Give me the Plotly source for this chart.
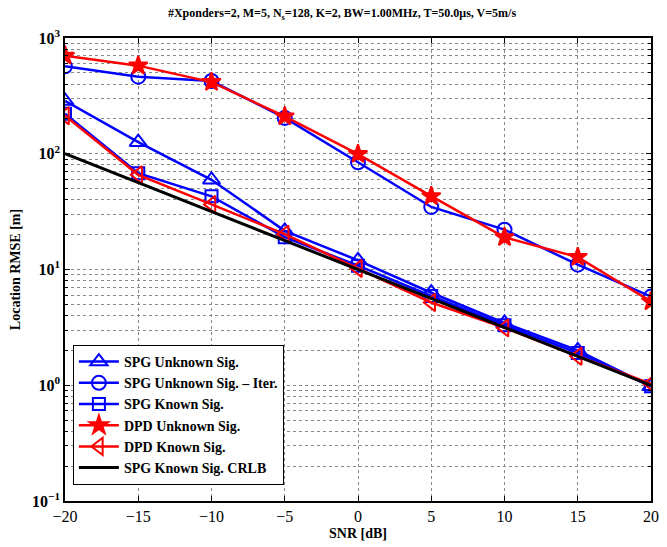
import plotly.graph_objects as go

snr = [-20, -15, -10, -5, 0, 5, 10, 15, 20]
spg_unknown = [286, 126, 59.6, 21.6, 12.0, 6.3, 3.45, 2.0, 0.98]
spg_unknown_iter = [569, 463, 425, 204, 84.4, 34.7, 22.1, 11.0, 5.84]
spg_known = [222, 67.9, 42.9, 19.0, 10.8, 5.9, 3.3, 1.9, 0.98]
dpd_unknown = [703, 577, 416, 210, 99.3, 43.0, 19.0, 12.8, 5.3]
dpd_known = [213, 65.8, 36.5, 20.2, 10.2, 5.19, 3.13, 1.78, 1.03]
crlb = [100, 56.2, 31.6, 17.8, 10.0, 5.62, 3.16, 1.78, 1.0]

names = ["SPG Unknown Sig.", "SPG Unknown Sig. – Iter.", "SPG Known Sig.",
         "DPD Unknown Sig.", "DPD Known Sig.", "SPG Known Sig. CRLB"]

FONT = "Liberation Serif"
BLUE = "#0000ff"
RED = "#ff0000"

fig = go.Figure()

def add(y, name, color, symbol, size):
    marker = dict(symbol=symbol, size=size, color=color,
                  line=dict(color=color, width=2))
    fig.add_trace(go.Scatter(x=snr, y=y, name="<b>" + name + "</b>", mode="lines+markers",
                             line=dict(color=color, width=2.5), marker=marker))

add(spg_unknown, names[0], BLUE, "triangle-up-open", 15)
add(spg_unknown_iter, names[1], BLUE, "circle-open", 14)
add(spg_known, names[2], BLUE, "square-open", 12)
add(dpd_unknown, names[3], RED, "star", 14)
add(dpd_known, names[4], RED, "triangle-left-open", 15)
fig.add_trace(go.Scatter(x=snr, y=crlb, name="<b>" + names[5] + "</b>", mode="lines",
                         line=dict(color="black", width=3)))

minor_vals = [m * 10 ** e for e in range(-1, 3) for m in range(2, 10)]

fig.update_layout(
    width=667, height=547,
    margin=dict(l=65, r=8, t=38, b=40),
    paper_bgcolor="white", plot_bgcolor="white",
    font=dict(family=FONT, color="black"),
    title=dict(text="<b>#Xponders=2, M=5, N<sub>s</sub>=128, K=2, BW=1.00MHz, T=50.0μs, V=5m/s</b>",
               x=342 / 667, xanchor="center", y=1 - 13 / 547, yanchor="middle",
               font=dict(size=12, family=FONT)),
    showlegend=True,
    legend=dict(x=(73 - 65) / 594, y=(507 - 349) / 469, xanchor="left", yanchor="top",
                bordercolor="black", borderwidth=1, bgcolor="white",
                font=dict(size=14, family=FONT), itemwidth=40, tracegroupgap=0),
)

fig.update_xaxes(
    range=[-20, 20], tickvals=[-20, -15, -10, -5, 0, 5, 10, 15, 20],
    ticks="inside", ticklen=5, tickcolor="black",
    showline=True, linecolor="black", linewidth=1.5, mirror="ticks",
    showgrid=True, gridcolor="#888", griddash="dot", gridwidth=1,
    zeroline=False,
    tickfont=dict(size=16, family=FONT),
    tickprefix="<b>", ticksuffix="</b>",
    title=dict(text="<b>SNR [dB]</b>", font=dict(size=14, family=FONT), standoff=4),
)

fig.update_yaxes(
    type="log", range=[-1, 3],
    tickvals=[0.1, 1, 10, 100, 1000],
    ticktext=["<b>10<sup>−1</sup></b>", "<b>10<sup>0</sup></b>", "<b>10<sup>1</sup></b>",
              "<b>10<sup>2</sup></b>", "<b>10<sup>3</sup></b>"],
    ticks="inside", ticklen=5, tickcolor="black",
    showline=True, linecolor="black", linewidth=1.5, mirror="ticks",
    showgrid=True, gridcolor="#888", griddash="dot", gridwidth=1,
    minor=dict(tickvals=minor_vals, ticks="inside", ticklen=3, tickcolor="black",
               showgrid=True, gridcolor="#888", griddash="dot", gridwidth=1),
    zeroline=False,
    tickfont=dict(size=16, family=FONT),
    title=dict(text="<b>Location RMSE [m]</b>", font=dict(size=14, family=FONT), standoff=8),
)

fig.write_html("out.html")
